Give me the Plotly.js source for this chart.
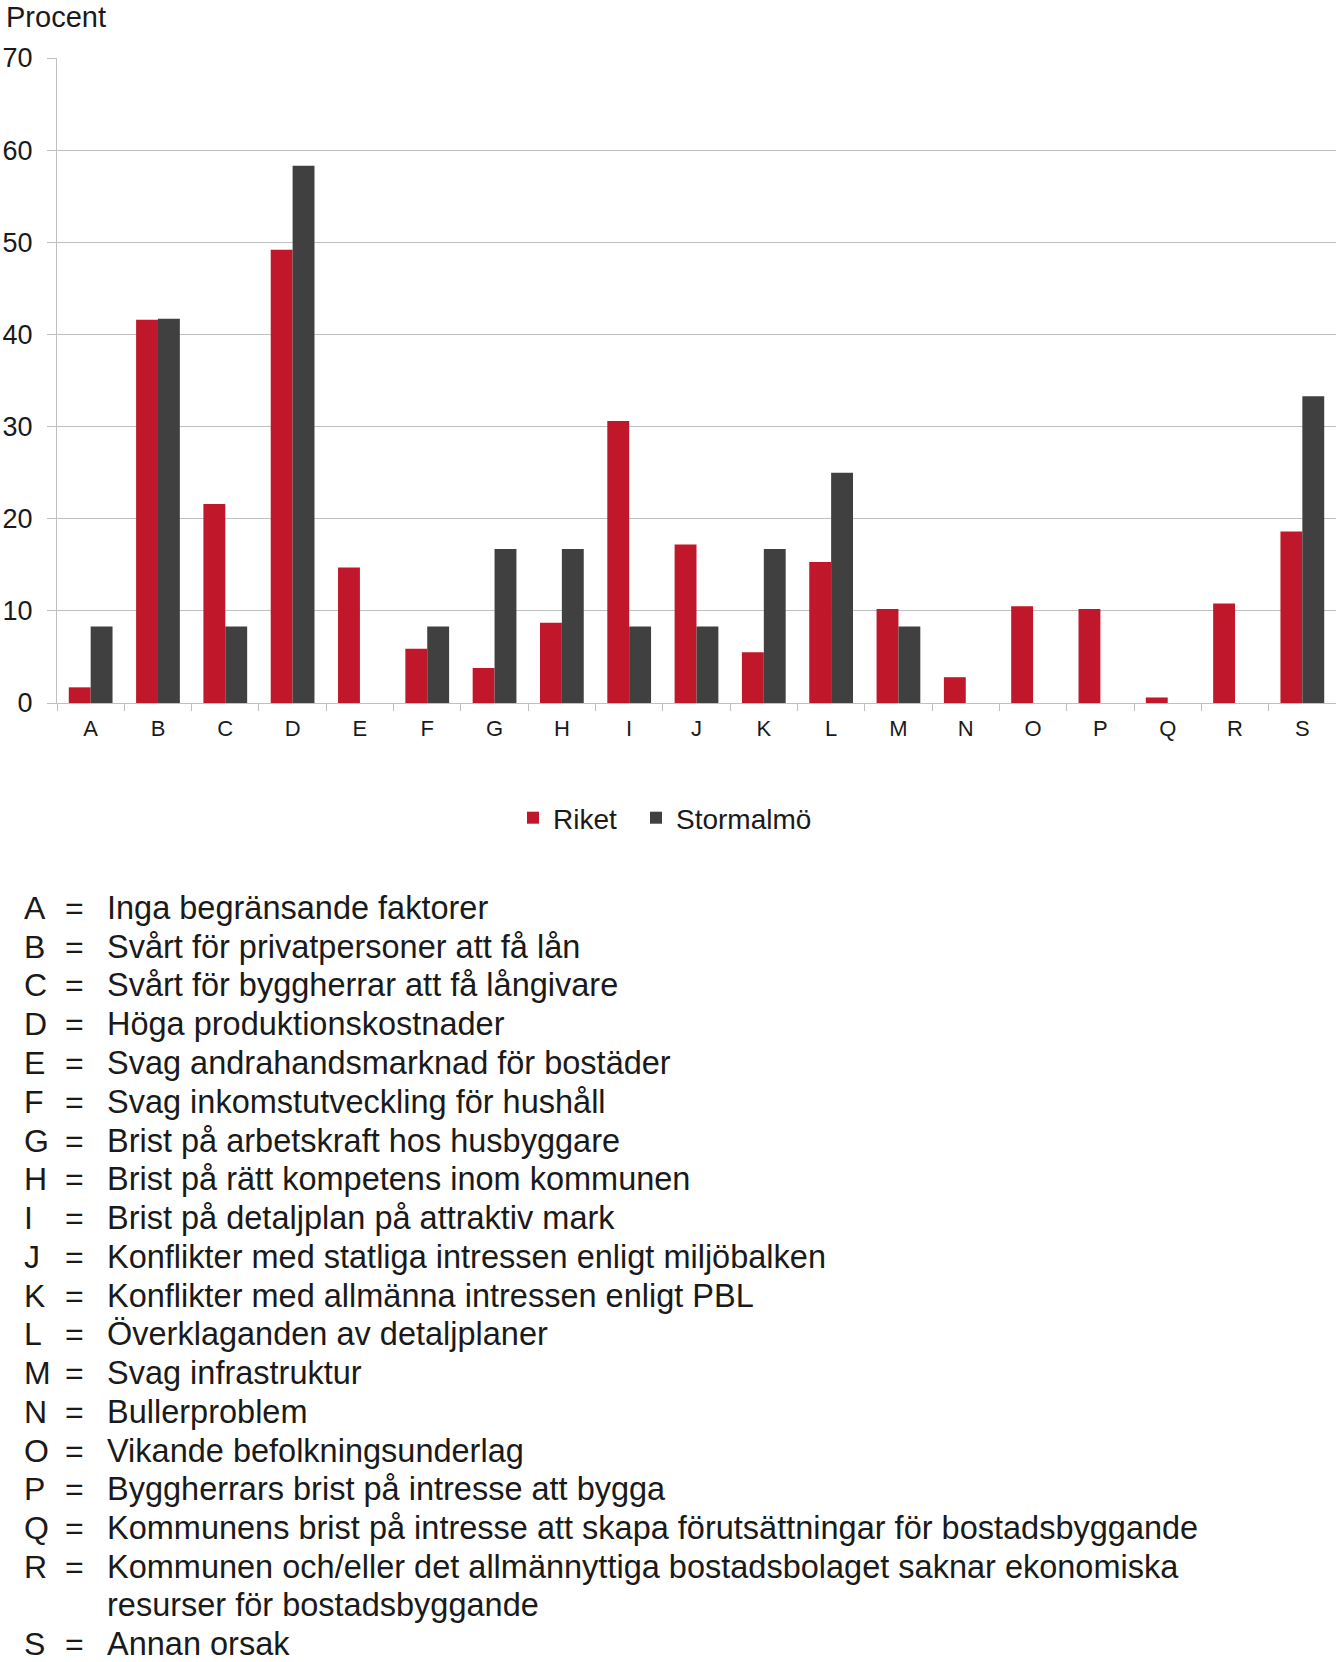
<!DOCTYPE html>
<html>
<head>
<meta charset="utf-8">
<script src="https://cdn.plot.ly/plotly-3.0.1.min.js"></script>
<style>
  html, body { margin: 0; padding: 0; background: #fff; }
  #chart { width: 1336px; height: 1662px; }
</style>
</head>
<body>
<div id="chart"></div>
<script>
// categories and values (percent)
var categories = ['A','B','C','D','E','F','G','H','I','J','K','L','M','N','O','P','Q','R','S'];
var riket      = [1.7, 41.6, 21.6, 49.2, 14.7, 5.9, 3.8, 8.7, 30.6, 17.2, 5.5, 15.3, 10.2, 2.8, 10.5, 10.2, 0.6, 10.8, 18.6];
var stormalmo  = [8.3, 41.7, 8.3, 58.3, 0, 8.3, 16.7, 16.7, 8.3, 8.3, 16.7, 25.0, 8.3, 0, 0, 0, 0, 0, 33.3];
var seriesNames = ['Riket', 'Stormalmö'];
var yTicks = [0, 10, 20, 30, 40, 50, 60, 70];

var descriptions = [
  'Inga begränsande faktorer',
  'Svårt för privatpersoner att få lån',
  'Svårt för byggherrar att få långivare',
  'Höga produktionskostnader',
  'Svag andrahandsmarknad för bostäder',
  'Svag inkomstutveckling för hushåll',
  'Brist på arbetskraft hos husbyggare',
  'Brist på rätt kompetens inom kommunen',
  'Brist på detaljplan på attraktiv mark',
  'Konflikter med statliga intressen enligt miljöbalken',
  'Konflikter med allmänna intressen enligt PBL',
  'Överklaganden av detaljplaner',
  'Svag infrastruktur',
  'Bullerproblem',
  'Vikande befolkningsunderlag',
  'Byggherrars brist på intresse att bygga',
  'Kommunens brist på intresse att skapa förutsättningar för bostadsbyggande',
  'Kommunen och/eller det allmännyttiga bostadsbolaget saknar ekonomiska<br>resurser för bostadsbyggande',
  'Annan orsak'
];

// plot area in pixels
var L = 57, T = 58, W = 1279, H = 645;
function px(x) { return (x - L) / W; }
function py(y) { return (T + H - y) / H; }

var font = 'Liberation Sans, Arial, sans-serif';
var ink = '#1a1a1a';
var grid = '#c0c0c0';

var traces = [
  {
    x: categories, y: riket, name: seriesNames[0], type: 'bar',
    marker: {color: '#c0172a'}, legend: 'legend'
  },
  {
    x: categories, y: stormalmo, name: seriesNames[1], type: 'bar',
    marker: {color: '#404040'}, legend: 'legend2'
  }
];

var annotations = [{
  text: 'Procent', x: px(5), y: py(0), xref: 'paper', yref: 'paper',
  xanchor: 'left', yanchor: 'top', showarrow: false, borderpad: 0,
  font: {family: font, size: 29, color: ink}
}];

// explanation list under the chart
var line = 0;
var lineTop = 908, lineStep = 38.75;
for (var i = 0; i < categories.length; i++) {
  var parts = descriptions[i].split('<br>');
  var yy = lineTop + lineStep * line;
  annotations.push({
    text: categories[i], x: px(23), y: py(yy), xref: 'paper', yref: 'paper',
    xanchor: 'left', yanchor: 'middle', showarrow: false, borderpad: 0,
    font: {family: font, size: 32, color: ink}
  });
  annotations.push({
    text: '=', x: px(64), y: py(yy), xref: 'paper', yref: 'paper',
    xanchor: 'left', yanchor: 'middle', showarrow: false, borderpad: 0,
    font: {family: font, size: 32, color: ink}
  });
  for (var j = 0; j < parts.length; j++) {
    annotations.push({
      text: parts[j], x: px(106), y: py(lineTop + lineStep * line),
      xref: 'paper', yref: 'paper',
      xanchor: 'left', yanchor: 'middle', showarrow: false, borderpad: 0,
      font: {family: font, size: 32.5, color: ink}
    });
    line++;
  }
}

var legendBase = {
  orientation: 'h',
  xanchor: 'left',
  y: py(818), yanchor: 'middle',
  font: {family: font, size: 28, color: ink},
  itemwidth: 30
};

var layout = {
  width: 1336,
  height: 1662,
  margin: {l: L, r: 1336 - L - W, t: T, b: 1662 - T - H, pad: 0},
  paper_bgcolor: '#fff',
  plot_bgcolor: '#fff',
  font: {family: font, color: ink},
  barmode: 'group',
  bargap: 0.35,
  bargroupgap: 0,
  showlegend: true,
  legend: Object.assign({}, legendBase, {x: px(513)}),
  legend2: Object.assign({}, legendBase, {x: px(636)}),
  xaxis: {
    type: 'category',
    showline: true, linecolor: grid, linewidth: 1,
    ticks: 'outside', tickson: 'boundaries', ticklen: 7, tickcolor: grid,
    ticklabelstandoff: 6,
    tickfont: {family: font, size: 22, color: ink},
    showgrid: false
  },
  yaxis: {
    range: [0, 70],
    tickvals: yTicks,
    showline: true, linecolor: grid, linewidth: 1,
    ticks: 'outside', ticklen: 9, tickcolor: grid,
    showgrid: true, gridcolor: grid, gridwidth: 1,
    zeroline: false,
    ticklabelstandoff: 9,
    tickfont: {family: font, size: 27, color: ink}
  },
  annotations: annotations
};

Plotly.newPlot('chart', traces, layout, {displayModeBar: false, staticPlot: true});
</script>
</body>
</html>
